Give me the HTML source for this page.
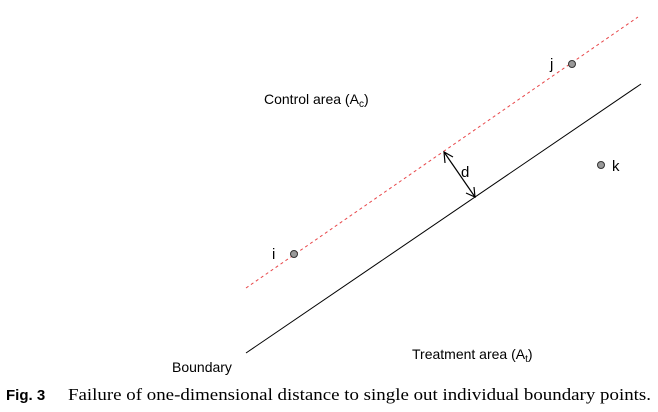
<!DOCTYPE html>
<html><head><meta charset="utf-8"><style>
html,body{margin:0;padding:0;background:#fff;}
svg{display:block;font-family:"Liberation Sans",sans-serif;}
</style></head><body>
<svg width="658" height="412" viewBox="0 0 658 412">
<line x1="246" y1="353" x2="641" y2="84" stroke="#000" stroke-width="1"/>
<line x1="246" y1="288" x2="638" y2="17" stroke="#e8474a" stroke-width="1" stroke-dasharray="3,3"/>
<g stroke="#000" stroke-width="1.2" fill="none">
<line x1="444" y1="152" x2="475" y2="197"/>
<polyline points="445,163 444,152 453,157"/>
<polyline points="466,193 475,197 474,187"/>
</g>
<text x="461" y="177" font-size="15">d</text>
<g fill="#999" stroke="#333" stroke-width="1">
<circle cx="294" cy="254" r="3.5"/>
<circle cx="572" cy="64" r="3.5"/>
<circle cx="601" cy="165" r="3.5"/>
</g>
<text x="272" y="259" font-size="15">i</text>
<text x="550" y="69" font-size="15">j</text>
<text x="612" y="171" font-size="15">k</text>
<text x="264" y="104" font-size="14">Control area (A<tspan font-size="10" dy="3">c</tspan><tspan dy="-3">)</tspan></text>
<text x="412" y="359" font-size="14">Treatment area (A<tspan font-size="10" dy="3">t</tspan><tspan dy="-3">)</tspan></text>
<text x="172" y="372" font-size="14">Boundary</text>
<text x="6" y="400" font-size="15" font-weight="bold">Fig. 3</text>
<text x="68" y="400" font-size="17" font-family="Liberation Serif, serif" textLength="583" lengthAdjust="spacingAndGlyphs">Failure of one-dimensional distance to single out individual boundary points.</text>
</svg>
</body></html>
